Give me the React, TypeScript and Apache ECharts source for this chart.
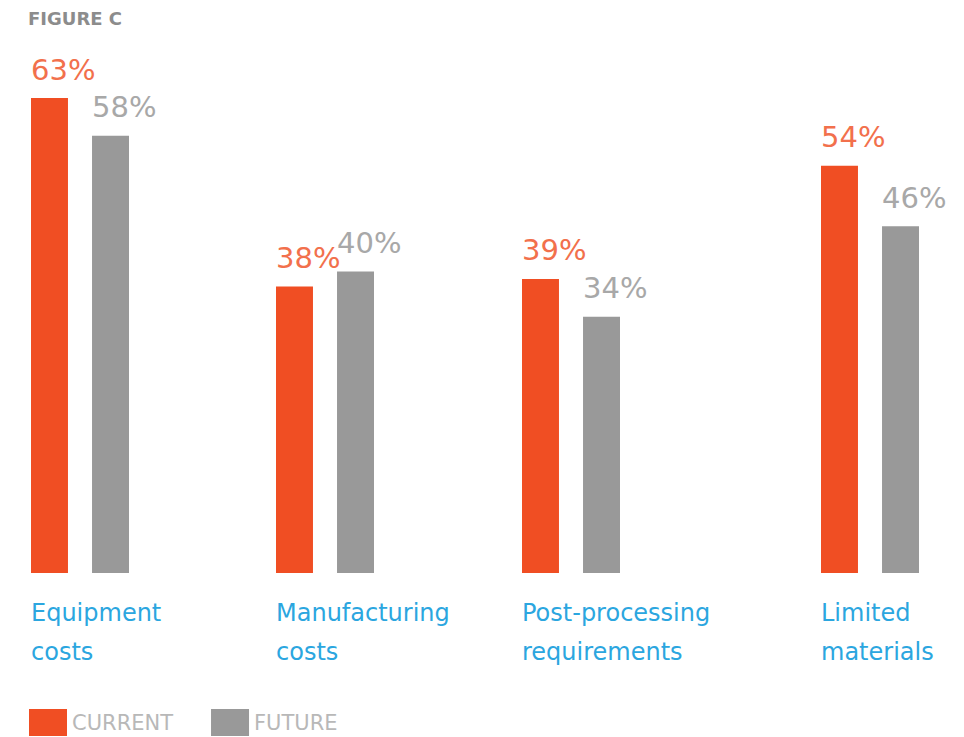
import React, { useEffect, useRef } from "react";
import * as echarts from "echarts";

const categories = ["Equipment\ncosts", "Manufacturing\ncosts", "Post-processing\nrequirements", "Limited\nmaterials"];
const currentValues = [63, 38, 39, 54];
const futureValues = [58, 40, 34, 46];
const seriesNames = ["CURRENT", "FUTURE"];

const ORANGE = "#f04e23";
const GRAY = "#999999";
const BLUE = "#2ba6df";
const FONT = "DejaVu Sans";

// group left edges (layout)
const groupLefts = [31, 276, 522, 821];
const GROUP_W = 98;

export default function App() {
  const ref = useRef<HTMLDivElement>(null);
  useEffect(() => {
    if (!ref.current) return;
    const chart = echarts.init(ref.current, null, { renderer: "svg" });
    const grids = groupLefts.map((l) => ({ left: l, width: GROUP_W, top: 98, height: 475 }));
    const xAxes = categories.map((c, i) => ({
      type: "category",
      gridIndex: i,
      data: [c],
      axisLine: { show: false },
      axisTick: { show: false },
      axisLabel: {
        margin: 20,
        align: "center",
        formatter: (v: string) => v.split("\n").map((s) => `{a|${s}}`).join("\n"),
        rich: {
          a: { width: GROUP_W, align: "left", fontSize: 24, lineHeight: 39, color: BLUE, fontFamily: FONT },
        },
      },
    }));
    const yAxes = categories.map((_, i) => ({
      type: "value",
      gridIndex: i,
      min: 0,
      max: 63,
      show: false,
    }));
    const label = (color: string) => ({
      show: true,
      position: "top",
      distance: 14,
      align: "left",
      offset: [-18.5, 0],
      formatter: "{c}%",
      color,
      fontSize: 29,
      fontFamily: FONT,
    });
    const series: any[] = [];
    categories.forEach((_, i) => {
      series.push({
        type: "bar",
        name: seriesNames[0],
        xAxisIndex: i,
        yAxisIndex: i,
        data: [currentValues[i]],
        barWidth: 37,
        barGap: "65%",
        itemStyle: { color: ORANGE },
        label: label("#f2704c"),
      });
      series.push({
        type: "bar",
        name: seriesNames[1],
        xAxisIndex: i,
        yAxisIndex: i,
        data: [futureValues[i]],
        barWidth: 37,
        barGap: "65%",
        itemStyle: { color: GRAY },
        label: label("#a8a8a8"),
      });
    });
    chart.setOption({
      animation: false,
      backgroundColor: "#ffffff",
      title: {
        text: "FIGURE C",
        left: 28,
        top: 9,
        padding: 0,
        textStyle: { fontSize: 18, fontWeight: "bold", color: "#8c8c8c", fontFamily: FONT },
      },
      legend: {
        data: seriesNames,
        left: 29,
        top: 709,
        padding: 0,
        icon: "rect",
        itemWidth: 38,
        itemHeight: 27,
        itemGap: 38,
        textStyle: { fontSize: 21, color: "#b8b8b8", fontFamily: FONT },
      },
      grid: grids,
      xAxis: xAxes,
      yAxis: yAxes,
      series,
    });
    return () => chart.dispose();
  }, []);
  return <div ref={ref} style={{ position: "fixed", left: 0, top: 0, width: 964, height: 737 }} />;
}
